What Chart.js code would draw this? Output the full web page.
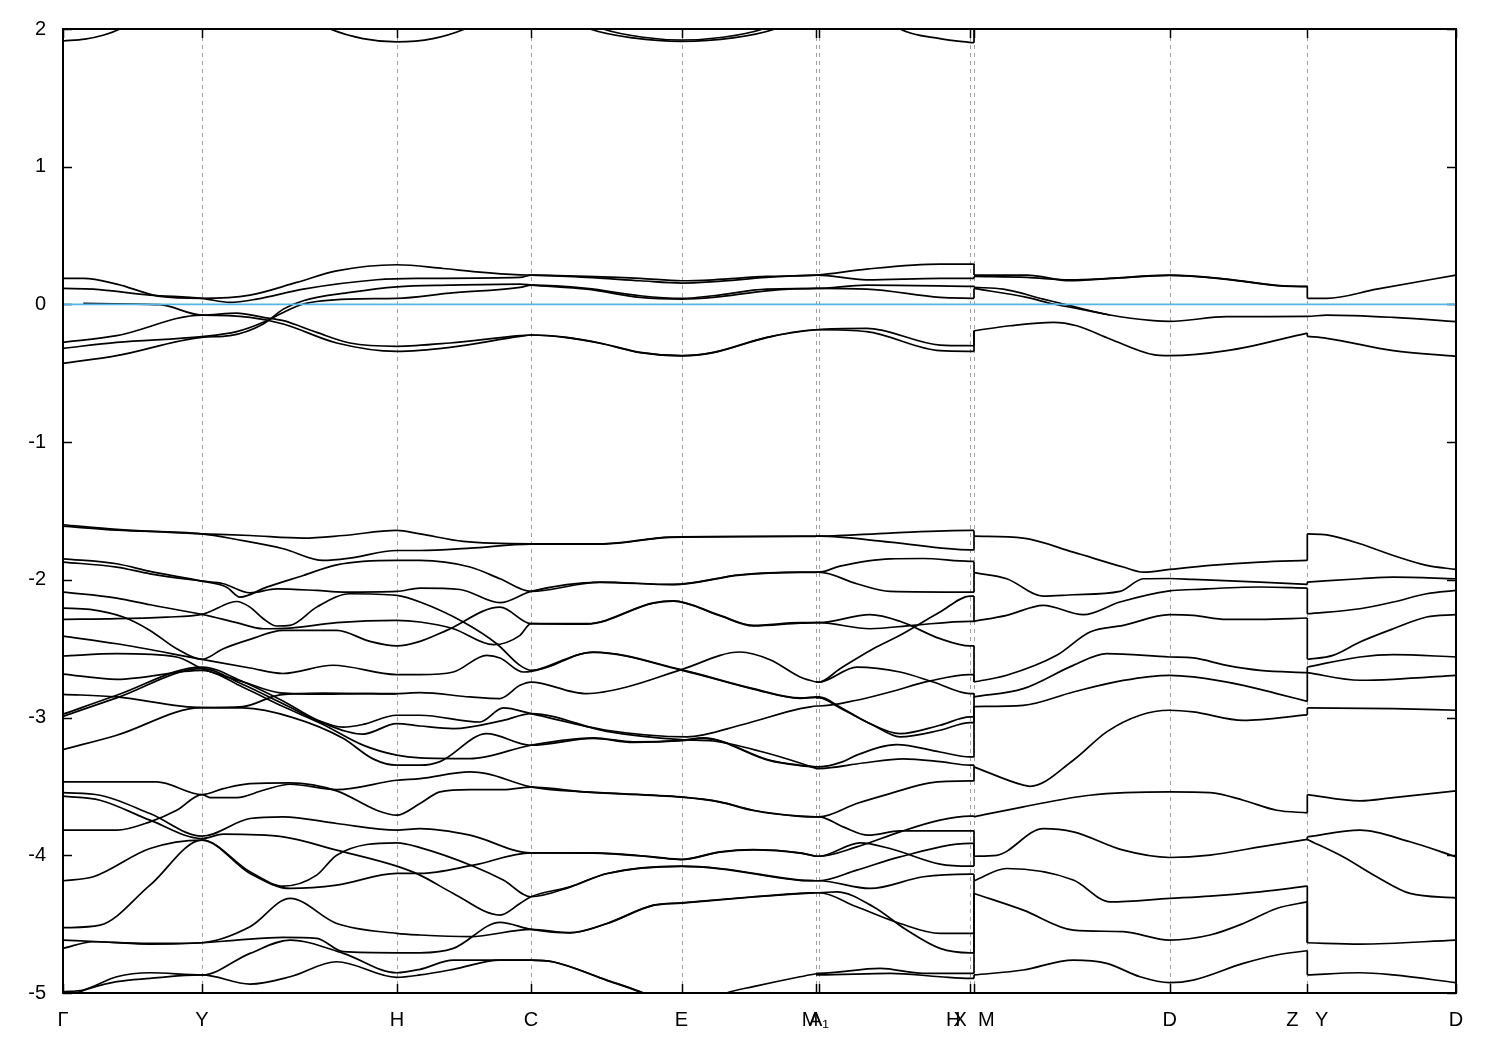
<!DOCTYPE html>
<html><head><meta charset="utf-8">
<script src="https://cdn.jsdelivr.net/npm/chart.js@4.4.1/dist/chart.umd.min.js"></script>
<style>html,body{margin:0;padding:0;background:#fff}#wrap{width:1500px;height:1050px}</style>
</head><body><div id="wrap"><canvas id="c" width="1500" height="1050"></canvas></div>
<script>
// high-symmetry path positions (k) and labels
const kTicks = [0, 1.39, 3.34, 4.68, 6.185, 7.527, 7.56, 9.07, 9.11, 11.066, 12.443, 13.93];
const kLabels = ['Γ', 'Y', 'H', 'C', 'E', 'M  ', 'A₁', 'H      ', 'X  M', 'D', 'Z   Y', 'D'];
const eMin = -5, eMax = 2;
const fermiLevel = [[0, 0], [13.93, 0]];

// bands above 2 eV (only their dips are visible)
const topA = [[0,1.913],[0.22,1.927],[0.4,1.955],[0.57,2.0],[0.8,2.1]];
const topB = [[2.4,2.1],[2.67,2.0],[3.0,1.93],[3.34,1.906],[3.7,1.93],[4.02,2.0],[4.3,2.1]];
const topC = [[5.0,2.1],[5.27,2.0],[5.7,1.935],[6.185,1.91],[6.7,1.935],[7.12,2.0],[7.4,2.1]];
const topD = [[5.1,2.1],[5.4,2.0],[5.8,1.94],[6.185,1.92],[6.6,1.94],[7.0,2.0],[7.3,2.1]];
const topE = [[8.2,2.1],[8.37,2.0],[8.77,1.93],[9.11,1.90],[9.11,2.1]];

// bands near the Fermi level
const f1 = [[0,0.189],[0.203,0.189],[0.537,0.148],[0.97,0.058],[1.39,0.044],[1.87,0.068],[2.337,0.160],[2.737,0.244],[3.337,0.288],[3.803,0.261],[4.137,0.237],[4.57,0.215],[4.687,0.213],[5.237,0.203],[5.77,0.189],[6.187,0.172],[6.503,0.179],[7.037,0.203],[7.537,0.213],[8.037,0.257],[8.77,0.293],[9.11,0.293],[9.11,0.213],[9.637,0.213],[10.07,0.172],[10.47,0.189],[11.063,0.213],[11.637,0.184],[12.17,0.136],[12.443,0.131],[12.443,0.044],[12.637,0.044],[13.137,0.111],[13.93,0.213]];
const f2 = [[0,0.116],[0.303,0.111],[0.87,0.068],[1.39,0.044],[1.67,0.015],[1.937,0.039],[2.403,0.111],[3.137,0.179],[3.537,0.189],[4.57,0.196],[4.687,0.213],[5.237,0.196],[5.77,0.172],[6.187,0.155],[6.503,0.165],[7.037,0.196],[7.537,0.213],[8.037,0.179],[8.77,0.189],[9.11,0.189],[9.11,0.203],[9.637,0.196],[10.07,0.179],[10.47,0.189],[11.063,0.211],[11.637,0.182],[12.17,0.134],[12.443,0.129]];
const f3 = [[0.203,0.007],[0.97,-0.002],[1.39,-0.077],[1.737,-0.063],[2.003,-0.094],[2.203,-0.118],[2.537,-0.203],[2.87,-0.280],[3.337,-0.304],[3.87,-0.280],[4.57,-0.227],[4.687,-0.222],[5.037,-0.239],[5.37,-0.280],[5.77,-0.348],[6.187,-0.372],[6.503,-0.348],[7.037,-0.239],[7.537,-0.184],[8.037,-0.174],[8.77,-0.295],[9.11,-0.300],[9.11,-0.191],[9.47,-0.155],[9.903,-0.130],[10.137,-0.155],[10.47,-0.251],[10.903,-0.365],[11.063,-0.372],[11.637,-0.336],[12.443,-0.208],[12.443,-0.232],[12.637,-0.246],[13.303,-0.336],[13.93,-0.377]];
const f4 = [[0,-0.275],[0.537,-0.227],[1.39,-0.077],[1.87,-0.094],[2.203,-0.142],[2.737,-0.280],[3.337,-0.341],[3.87,-0.312],[4.57,-0.232],[4.687,-0.222],[5.037,-0.241],[5.37,-0.282],[5.77,-0.350],[6.187,-0.374],[6.503,-0.350],[7.037,-0.241],[7.537,-0.184],[8.037,-0.198],[8.77,-0.336],[9.11,-0.341],[9.11,-0.191]];
const f5 = [[0,-0.319],[0.537,-0.275],[1.39,-0.234],[1.737,-0.198],[2.003,-0.130],[2.203,-0.058],[2.403,0.003],[2.87,0.039],[3.337,0.044],[3.87,0.082],[4.57,0.124],[4.687,0.140],[5.237,0.116],[5.77,0.063],[6.187,0.044],[6.503,0.063],[7.037,0.111],[7.537,0.116],[8.037,0.140],[9.11,0.131],[9.11,0.124],[9.403,0.111],[9.803,0.039],[10.07,-0.009],[10.47,-0.077],[10.903,-0.118],[11.063,-0.123],[11.637,-0.089],[12.443,-0.087],[12.637,-0.077],[13.303,-0.094],[13.93,-0.125]];
const f6 = [[0,-0.428],[0.537,-0.372],[1.39,-0.239],[1.67,-0.227],[2.003,-0.142],[2.203,-0.034],[2.403,0.027],[2.87,0.087],[3.337,0.128],[3.87,0.140],[4.57,0.148],[4.687,0.140],[5.237,0.111],[5.77,0.051],[6.187,0.039],[6.503,0.051],[7.037,0.099],[7.537,0.116],[8.037,0.111],[8.77,0.051],[9.11,0.044],[9.11,0.116],[9.637,0.051],[9.903,0.003],[10.137,-0.029],[10.47,-0.077]];

// valence bands, Gamma -> M
const gm01 = [[0,-1.600],[0.537,-1.634],[1.39,-1.666],[1.87,-1.678],[2.403,-1.697],[2.803,-1.678],[3.337,-1.641],[3.57,-1.666],[4.003,-1.721],[4.68,-1.738],[5.403,-1.738],[6.07,-1.690],[7.37,-1.683],[7.53,-1.683]];
const gm02 = [[0,-1.610],[0.537,-1.639],[1.39,-1.666],[1.737,-1.707],[2.203,-1.774],[2.603,-1.859],[2.87,-1.842],[3.337,-1.787],[3.57,-1.787],[4.07,-1.77],[4.68,-1.740],[5.403,-1.740],[6.07,-1.692],[7.37,-1.685],[7.53,-1.685]];
const gm03 = [[0,-1.847],[0.537,-1.883],[0.87,-1.939],[1.39,-2.009],[1.637,-2.053],[1.77,-2.125],[2.037,-2.053],[2.403,-1.968],[2.737,-1.891],[3.337,-1.859],[3.57,-1.859],[4.07,-1.907],[4.37,-1.992],[4.68,-2.084],[5.37,-2.016],[6.103,-2.033],[6.77,-1.963],[7.37,-1.944],[7.53,-1.944]];
const gm04 = [[0,-1.871],[0.537,-1.907],[0.87,-1.956],[1.39,-2.009],[1.603,-2.028],[1.87,-2.094],[2.137,-2.065],[2.537,-2.077],[2.803,-2.089],[3.337,-2.084],[3.57,-2.060],[3.97,-2.070],[4.37,-2.166],[4.68,-2.084],[5.37,-2.018],[6.103,-2.035],[6.77,-1.965],[7.37,-1.946],[7.53,-1.946]];
const gm05 = [[0,-2.287],[0.537,-2.282],[1.037,-2.270],[1.39,-2.251],[1.67,-2.166],[1.737,-2.157],[1.87,-2.198],[2.003,-2.282],[2.137,-2.335],[2.27,-2.331],[2.537,-2.198],[2.87,-2.101],[3.337,-2.113],[3.57,-2.161],[4.003,-2.306],[4.337,-2.464],[4.57,-2.621],[4.68,-2.657],[5.303,-2.524],[6.183,-2.652],[6.903,-2.790],[7.37,-2.857],[7.53,-2.85]];
const gm06 = [[0,-2.089],[0.537,-2.132],[0.87,-2.181],[1.39,-2.251],[1.737,-2.311],[2.003,-2.355],[2.27,-2.350],[2.737,-2.311],[3.337,-2.294],[3.57,-2.306],[3.903,-2.355],[4.303,-2.471],[4.57,-2.403],[4.68,-2.318],[5.237,-2.318],[5.903,-2.167],[6.103,-2.152],[6.57,-2.258],[6.903,-2.331],[7.37,-2.311],[7.53,-2.311]];
const gm07 = [[0,-2.205],[0.27,-2.214],[0.603,-2.270],[0.87,-2.367],[1.137,-2.500],[1.39,-2.577],[1.603,-2.500],[1.87,-2.432],[2.203,-2.367],[2.737,-2.367],[3.07,-2.447],[3.337,-2.480],[3.57,-2.447],[3.837,-2.367],[4.37,-2.198],[4.68,-2.318],[5.237,-2.321],[5.903,-2.170],[6.103,-2.155],[6.57,-2.261],[6.903,-2.334],[7.37,-2.314],[7.53,-2.311]];
const gm08 = [[0,-2.408],[0.537,-2.464],[1.39,-2.577],[1.87,-2.64],[2.2,-2.68],[2.7,-2.62],[3.337,-2.688],[3.57,-2.688],[3.903,-2.669],[4.237,-2.548],[4.37,-2.567],[4.603,-2.669],[4.68,-2.665],[5.303,-2.527],[6.183,-2.655],[6.903,-2.793],[7.37,-2.860],[7.53,-2.853]];
const gm09 = [[0,-2.553],[0.537,-2.536],[1.137,-2.56],[1.39,-2.645],[1.8,-2.74],[2.17,-2.82],[2.6,-2.83],[3.0,-2.826],[3.337,-2.826],[3.57,-2.819],[4.07,-2.850],[4.37,-2.862],[4.57,-2.766],[4.68,-2.742],[5.103,-2.814],[5.237,-2.826],[5.637,-2.778],[6.183,-2.652],[6.77,-2.524],[7.07,-2.58],[7.37,-2.705],[7.53,-2.742]];
const gm10 = [[0,-2.831],[0.537,-2.850],[1.39,-2.928],[1.8,-2.92],[2.17,-2.835],[2.6,-2.822],[3.337,-2.829]];
const gm11 = [[0,-2.976],[0.537,-2.838],[1.39,-2.633],[1.8,-2.74],[2.2,-2.88],[2.55,-3.02],[2.8,-3.07],[3.0,-3.05],[3.337,-2.983],[3.57,-2.983],[4.17,-3.032],[4.403,-2.93],[4.68,-2.971],[5.437,-3.092],[6.237,-3.14],[6.8,-3.05],[7.37,-2.935],[7.53,-2.916]];
const gm12 = [[0,-2.991],[0.537,-2.857],[1.39,-2.645],[1.8,-2.76],[2.2,-2.90],[2.6,-3.04],[3.0,-3.12],[3.337,-3.044],[3.57,-3.061],[3.903,-3.08],[4.403,-3.02],[4.68,-2.971],[5.437,-3.10],[6.183,-3.16],[6.5,-3.17],[7.0,-3.25],[7.37,-3.33],[7.53,-3.37]];
const gm13 = [[0,-2.684],[0.537,-2.722],[1.39,-2.657],[1.8,-2.78],[2.2,-2.92],[2.6,-3.05],[3.0,-3.20],[3.337,-3.273],[3.57,-3.293],[4.07,-3.298],[4.68,-3.201],[5.303,-3.148],[5.703,-3.177],[6.183,-3.165],[6.403,-3.148],[7.07,-3.31],[7.37,-3.346],[7.53,-3.358]];
const gm14 = [[0,-3.233],[0.537,-3.128],[1.39,-2.928],[1.8,-2.93],[2.3,-3.00],[2.8,-3.15],[3.1,-3.30],[3.337,-3.346],[3.57,-3.346],[3.77,-3.32],[4.237,-3.117],[4.68,-3.201],[5.303,-3.151],[5.703,-3.180],[6.183,-3.168],[6.403,-3.151],[7.07,-3.313],[7.37,-3.349],[7.53,-3.36]];
const gm15 = [[0,-3.818],[0.537,-3.818],[0.87,-3.757],[1.137,-3.673],[1.39,-3.559],[1.47,-3.581],[1.737,-3.581],[2.003,-3.528],[2.27,-3.484],[2.737,-3.523],[3.337,-3.455],[3.57,-3.443],[4.07,-3.395],[4.237,-3.407],[4.68,-3.503],[5.237,-3.540],[6.183,-3.576],[6.57,-3.612],[6.903,-3.673],[7.37,-3.716],[7.53,-3.721]];
const gm16 = [[0,-3.467],[0.937,-3.467],[1.39,-3.559],[1.603,-3.516],[1.87,-3.479],[2.27,-3.474],[2.737,-3.532],[3.137,-3.673],[3.337,-3.709],[3.57,-3.624],[3.77,-3.540],[4.07,-3.523],[4.403,-3.523],[4.68,-3.505],[5.237,-3.542],[6.183,-3.578],[6.57,-3.614],[6.903,-3.675],[7.37,-3.718],[7.53,-3.721]];
const gm17 = [[0,-3.545],[0.37,-3.564],[0.87,-3.697],[1.39,-3.861],[1.87,-3.733],[2.203,-3.721],[2.737,-3.769],[3.337,-3.818],[3.57,-3.806],[4.07,-3.854],[4.68,-3.982],[5.303,-3.982],[5.903,-4.011],[6.183,-4.03],[6.57,-3.975],[6.903,-3.958],[7.37,-3.982],[7.53,-4.007]];
const gm18 = [[0,-3.571],[0.37,-3.600],[0.87,-3.745],[1.39,-3.878],[1.603,-3.847],[2.203,-3.866],[2.737,-3.963],[3.337,-4.079],[3.57,-4.144],[3.903,-4.277],[4.37,-4.434],[4.57,-4.35],[4.68,-4.301],[5.07,-4.229],[5.437,-4.132],[6.183,-4.079],[6.57,-4.096],[7.37,-4.180],[7.53,-4.185]];
const gm19 = [[0,-4.185],[0.303,-4.156],[0.87,-3.951],[1.39,-3.890],[1.87,-4.120],[2.203,-4.224],[2.537,-4.144],[2.737,-3.999],[3.337,-3.910],[3.57,-3.944],[4.103,-4.079],[4.403,-4.18],[4.68,-4.301],[5.07,-4.231],[5.437,-4.134],[6.183,-4.081],[6.57,-4.098],[7.37,-4.182],[7.53,-4.185]];
const gm20 = [[0,-4.526],[0.37,-4.507],[0.87,-4.217],[1.39,-3.890],[1.87,-4.132],[2.27,-4.241],[2.737,-4.217],[3.337,-4.132],[3.57,-4.132],[4.103,-4.072],[4.68,-3.982],[5.303,-3.984],[5.903,-4.013],[6.183,-4.032],[6.57,-3.977],[6.903,-3.960],[7.37,-3.984],[7.53,-4.007]];
const gm21 = [[0,-4.676],[0.303,-4.628],[0.87,-4.645],[1.39,-4.635],[1.87,-4.519],[2.27,-4.313],[2.737,-4.495],[3.337,-4.567],[3.57,-4.579],[4.07,-4.591],[4.68,-4.538],[5.07,-4.562],[5.437,-4.495],[5.903,-4.362],[6.183,-4.345],[6.903,-4.301],[7.37,-4.277],[7.53,-4.272]];
const gm22 = [[0,-4.616],[0.37,-4.628],[0.87,-4.640],[1.39,-4.635],[1.737,-4.616],[2.203,-4.596],[2.537,-4.603],[2.803,-4.700],[3.337,-4.708],[3.57,-4.708],[3.903,-4.676],[4.37,-4.487],[4.68,-4.538],[5.07,-4.564],[5.437,-4.497],[5.903,-4.364],[6.183,-4.347],[6.903,-4.303],[7.37,-4.279],[7.53,-4.272]];
const gm23 = [[0,-4.99],[0.203,-4.978],[0.537,-4.882],[0.87,-4.853],[1.39,-4.869],[1.87,-4.712],[2.27,-4.616],[2.803,-4.712],[3.337,-4.853],[3.57,-4.828],[3.903,-4.761],[4.68,-4.761],[4.903,-4.773],[5.437,-4.906],[5.77,-4.99],[5.95,-5.05]];
const gm24 = [[0,-5.05],[0.137,-5.0],[0.537,-4.918],[0.87,-4.894],[1.39,-4.869],[1.87,-4.935],[2.27,-4.882],[2.737,-4.773],[3.337,-4.886],[3.57,-4.869],[3.903,-4.828],[4.37,-4.761],[4.68,-4.761],[4.903,-4.775],[5.437,-4.908],[5.77,-4.992],[5.95,-5.05]];
const gm25 = [[6.5,-5.05],[6.637,-5.0],[6.903,-4.954],[7.37,-4.882],[7.53,-4.86]];

// valence bands, M -> A1 -> H1 | X
const mx01 = [[7.53,-1.683],[7.56,-1.683],[8.27,-1.66],[9.07,-1.641],[9.11,-1.641],[9.11,-1.683]];
const mx02 = [[7.53,-1.683],[7.56,-1.683],[8.27,-1.726],[9.07,-1.782],[9.11,-1.782],[9.11,-1.683]];
const mx03 = [[7.53,-1.944],[7.56,-1.944],[7.77,-1.90],[8.27,-1.847],[8.6,-1.845],[9.07,-1.866],[9.11,-1.866],[9.11,-1.948]];
const mx04 = [[7.53,-1.944],[7.56,-1.944],[7.937,-2.028],[8.27,-2.084],[9.07,-2.089],[9.11,-2.089],[9.11,-1.948]];
const mx05 = [[7.53,-2.742],[7.56,-2.742],[7.77,-2.645],[8.103,-2.50],[8.37,-2.403],[8.77,-2.234],[9.07,-2.118],[9.11,-2.118],[9.11,-2.301]];
const mx06 = [[7.53,-2.311],[7.56,-2.311],[8.07,-2.355],[8.5,-2.33],[9.07,-2.301],[9.11,-2.301]];
const mx07 = [[7.53,-2.311],[7.56,-2.311],[8.07,-2.253],[8.37,-2.301],[8.77,-2.427],[9.07,-2.48],[9.11,-2.48],[9.11,-2.742]];
const mx08 = [[7.53,-2.916],[7.56,-2.916],[7.937,-2.874],[8.27,-2.814],[8.67,-2.734],[9.07,-2.688],[9.11,-2.688],[9.11,-2.742]];
const mx09 = [[7.53,-2.742],[7.56,-2.742],[7.937,-2.633],[8.37,-2.669],[8.703,-2.742],[9.07,-2.826],[9.11,-2.826],[9.11,-2.85]];
const mx10 = [[7.53,-2.85],[7.56,-2.85],[7.77,-2.923],[8.037,-3.032],[8.37,-3.117],[8.77,-3.056],[9.07,-2.995],[9.11,-2.995],[9.11,-2.85]];
const mx11 = [[7.53,-2.857],[7.56,-2.857],[7.77,-2.93],[8.103,-3.056],[8.37,-3.14],[8.77,-3.092],[9.07,-3.036],[9.11,-3.036],[9.11,-2.92]];
const mx12 = [[7.53,-3.358],[7.56,-3.358],[7.8,-3.32],[7.937,-3.273],[8.337,-3.196],[8.77,-3.25],[9.07,-3.286],[9.11,-3.286],[9.11,-2.92]];
const mx13 = [[7.53,-3.37],[7.56,-3.37],[8.0,-3.33],[8.4,-3.30],[8.77,-3.32],[9.07,-3.346],[9.11,-3.346],[9.11,-3.358]];
const mx14 = [[7.53,-3.721],[7.56,-3.721],[7.937,-3.624],[8.27,-3.552],[8.67,-3.474],[9.07,-3.46],[9.11,-3.46],[9.11,-3.358]];
const mx15 = [[7.53,-3.721],[7.56,-3.721],[7.803,-3.794],[8.053,-3.854],[8.37,-3.823],[9.07,-3.823],[9.11,-3.823],[9.11,-4.007]];
const mx16 = [[7.53,-4.007],[7.56,-4.007],[7.937,-3.939],[8.37,-3.830],[8.77,-3.745],[9.07,-3.716],[9.11,-3.716],[9.11,-3.721]];
const mx17 = [[7.53,-4.007],[7.56,-4.007],[7.97,-3.91],[8.27,-3.951],[8.77,-4.064],[9.07,-4.079],[9.11,-4.079],[9.11,-4.007]];
const mx18 = [[7.53,-4.185],[7.56,-4.185],[7.937,-4.108],[8.37,-4.011],[9.07,-3.914],[9.11,-3.914],[9.11,-4.007]];
const mx19 = [[7.53,-4.185],[7.56,-4.185],[8.07,-4.241],[8.603,-4.156],[9.07,-4.137],[9.11,-4.137],[9.11,-4.185]];
const mx20 = [[7.53,-4.272],[7.56,-4.272],[7.937,-4.374],[8.37,-4.495],[8.77,-4.567],[9.07,-4.567],[9.11,-4.567],[9.11,-4.185]];
const mx21 = [[7.53,-4.272],[7.56,-4.272],[7.737,-4.265],[8.103,-4.374],[8.437,-4.543],[8.77,-4.676],[9.07,-4.708],[9.11,-4.708],[9.11,-4.277]];
const mx22 = [[7.53,-4.857],[7.56,-4.857],[8.17,-4.821],[8.603,-4.857],[9.07,-4.857],[9.11,-4.857],[9.11,-4.277]];
const mx23 = [[7.53,-4.869],[7.56,-4.869],[8.27,-4.857],[8.77,-4.882],[9.07,-4.894],[9.11,-4.894],[9.11,-4.869]];

// valence bands, X -> D -> Z | Y -> D
const xd01 = [[9.11,-1.683],[9.603,-1.697],[10.103,-1.799],[10.603,-1.907],[10.803,-1.944],[11.066,-1.924],[11.47,-1.895],[11.97,-1.871],[12.443,-1.859],[12.443,-1.666],[12.637,-1.673],[12.97,-1.738],[13.303,-1.823],[13.637,-1.895],[13.93,-1.924]];
const xd02 = [[9.11,-1.948],[9.437,-1.992],[9.803,-2.118],[10.103,-2.108],[10.57,-2.084],[10.803,-1.992],[11.066,-1.99],[11.303,-1.997],[11.97,-2.016],[12.443,-2.033],[12.443,-2.016],[12.97,-1.992],[13.303,-1.98],[13.93,-1.992]];
const xd03 = [[9.11,-2.301],[9.437,-2.258],[9.803,-2.185],[10.203,-2.253],[10.57,-2.161],[11.066,-2.08],[11.303,-2.07],[11.97,-2.052],[12.443,-2.06],[12.443,-2.246],[12.97,-2.21],[13.303,-2.161],[13.637,-2.101],[13.93,-2.077]];
const xd04 = [[9.11,-2.742],[9.437,-2.693],[9.937,-2.548],[10.27,-2.379],[10.603,-2.331],[11.066,-2.253],[11.303,-2.258],[11.637,-2.287],[11.97,-2.287],[12.443,-2.277],[12.443,-2.577],[12.70,-2.548],[12.97,-2.451],[13.303,-2.355],[13.637,-2.270],[13.93,-2.253]];
const xd05 = [[9.11,-2.85],[9.603,-2.790],[10.103,-2.621],[10.437,-2.536],[11.066,-2.56],[11.303,-2.567],[11.637,-2.621],[11.97,-2.657],[12.443,-2.674],[12.443,-2.633],[12.97,-2.56],[13.303,-2.543],[13.93,-2.56]];
const xd06 = [[9.11,-2.92],[9.603,-2.911],[10.103,-2.814],[10.603,-2.73],[11.066,-2.693],[11.303,-2.705],[11.803,-2.766],[12.137,-2.826],[12.443,-2.882],[12.443,-2.674],[12.97,-2.729],[13.303,-2.722],[13.93,-2.693]];
const xd07 = [[9.11,-3.358],[9.603,-3.491],[9.67,-3.499],[10.103,-3.31],[10.437,-3.104],[10.77,-2.983],[11.066,-2.947],[11.303,-2.959],[11.803,-3.02],[12.443,-2.98],[12.443,-2.93],[13.303,-2.935],[13.93,-2.947]];
const xd08 = [[9.11,-3.721],[9.603,-3.648],[10.27,-3.564],[11.066,-3.54],[11.47,-3.545],[11.803,-3.60],[12.137,-3.673],[12.443,-3.692],[12.443,-3.559],[12.97,-3.605],[13.303,-3.581],[13.93,-3.532]];
const xd09 = [[9.11,-4.007],[9.337,-4.0],[9.803,-3.806],[10.103,-3.83],[10.603,-3.963],[11.066,-4.016],[11.47,-3.999],[11.97,-3.939],[12.443,-3.885],[12.443,-3.866],[12.97,-3.818],[13.47,-3.902],[13.93,-4.011]];
const xd10 = [[12.443,-3.885],[12.8,-4.011],[13.137,-4.156],[13.47,-4.277],[13.93,-4.309]];
const xd11 = [[9.11,-4.185],[9.437,-4.096],[10.103,-4.180],[10.47,-4.338],[11.066,-4.313],[11.47,-4.296],[11.97,-4.265],[12.443,-4.224],[12.443,-4.635],[12.97,-4.645],[13.93,-4.616]];
const xd12 = [[9.11,-4.277],[9.603,-4.398],[10.103,-4.543],[10.603,-4.555],[11.066,-4.616],[11.47,-4.579],[11.803,-4.495],[12.137,-4.386],[12.443,-4.338],[12.443,-4.635]];
const xd13 = [[9.11,-4.869],[9.603,-4.833],[10.103,-4.761],[10.437,-4.785],[10.77,-4.882],[11.066,-4.925],[11.303,-4.906],[11.803,-4.785],[12.137,-4.724],[12.443,-4.693],[12.443,-4.869],[12.97,-4.853],[13.303,-4.869],[13.93,-4.925]];

const bandLines = [topA, topB, topC, topD, topE, f1, f2, f3, f4, f5, f6,
  gm01, gm02, gm03, gm04, gm05, gm06, gm07, gm08, gm09, gm10, gm11, gm12, gm13, gm14, gm15, gm16, gm17, gm18, gm19, gm20, gm21, gm22, gm23, gm24, gm25,
  mx01, mx02, mx03, mx04, mx05, mx06, mx07, mx08, mx09, mx10, mx11, mx12, mx13, mx14, mx15, mx16, mx17, mx18, mx19, mx20, mx21, mx22, mx23,
  xd01, xd02, xd03, xd04, xd05, xd06, xd07, xd08, xd09, xd10, xd11, xd12, xd13];

// split each band at the path discontinuities (repeated k) so the smooth curve
// never loops; the jump itself becomes its own straight 2-point piece
function pieces(arr) {
  const out = []; let cur = [arr[0]];
  for (let i = 1; i < arr.length; i++) {
    if (arr[i][0] === arr[i - 1][0]) { out.push(cur); out.push([arr[i - 1], arr[i]]); cur = [arr[i]]; }
    else cur.push(arr[i]);
  }
  out.push(cur);
  return out.filter(p => p.length > 1);
}
const toPts = arr => arr.map(([x, y]) => ({x, y}));
const datasets = [{data: toPts(fermiLevel), borderColor: '#56b4e9', borderWidth: 1.7, showLine: true, pointRadius: 0}]
  .concat(bandLines.flatMap(b => pieces(b).map(p => ({
    data: toPts(p), borderColor: '#000', borderWidth: 1.7, showLine: true, pointRadius: 0,
    cubicInterpolationMode: 'monotone'
  }))));

const kMax = kTicks[kTicks.length - 1];
const frame = {
  id: 'frame',
  beforeDatasetsDraw(chart) {
    const {ctx, chartArea: a, scales: {x, y}} = chart;
    ctx.save();
    ctx.strokeStyle = '#a0a0a0'; ctx.lineWidth = 1; ctx.setLineDash([4, 4]);
    kTicks.forEach(v => {
      if (v <= 0 || v >= kMax) return;
      const px = Math.round(x.getPixelForValue(v)) + 0.5;
      ctx.beginPath(); ctx.moveTo(px, a.top); ctx.lineTo(px, a.bottom); ctx.stroke();
    });
    ctx.setLineDash([]); ctx.strokeStyle = '#000'; ctx.lineWidth = 1.5;
    kTicks.forEach(v => {
      const px = Math.round(x.getPixelForValue(v)) + 0.5;
      ctx.beginPath(); ctx.moveTo(px, a.bottom); ctx.lineTo(px, a.bottom - 9);
      ctx.moveTo(px, a.top); ctx.lineTo(px, a.top + 9); ctx.stroke();
    });
    for (let v = eMin; v <= eMax; v++) {
      const py = Math.round(y.getPixelForValue(v)) + 0.5;
      ctx.beginPath(); ctx.moveTo(a.left, py); ctx.lineTo(a.left + 9, py);
      ctx.moveTo(a.right, py); ctx.lineTo(a.right - 9, py); ctx.stroke();
    }
    ctx.restore();
  },
  afterDatasetsDraw(chart) {
    const {ctx, chartArea: a} = chart;
    ctx.save(); ctx.strokeStyle = '#000'; ctx.lineWidth = 2;
    ctx.strokeRect(a.left, a.top, a.right - a.left, a.bottom - a.top);
    ctx.restore();
  }
};

const font = {size: 20, family: "'Liberation Sans', Arial, sans-serif"};
new Chart(document.getElementById('c'), {
  type: 'scatter',
  data: {datasets},
  plugins: [frame],
  options: {
    responsive: false, devicePixelRatio: 1, animation: false,
    layout: {padding: {left: 0, right: 44, top: 28, bottom: 0}},
    plugins: {legend: {display: false}, tooltip: {enabled: false}},
    scales: {
      x: {
        type: 'linear', min: 0, max: kMax,
        grid: {display: false, drawTicks: false}, border: {display: false},
        afterBuildTicks: s => { s.ticks = kTicks.map(v => ({value: v})); },
        afterFit: s => { s.height = 57; },
        ticks: {autoSkip: false, maxRotation: 0, minRotation: 0, padding: 15, color: '#000', font,
          callback: (v, i) => kLabels[i]}
      },
      y: {
        min: eMin, max: eMax,
        grid: {display: false, drawTicks: false}, border: {display: false},
        afterFit: s => { s.width = 63; },
        ticks: {stepSize: 1, padding: 17, color: '#000', font}
      }
    }
  }
});
</script></body></html>
